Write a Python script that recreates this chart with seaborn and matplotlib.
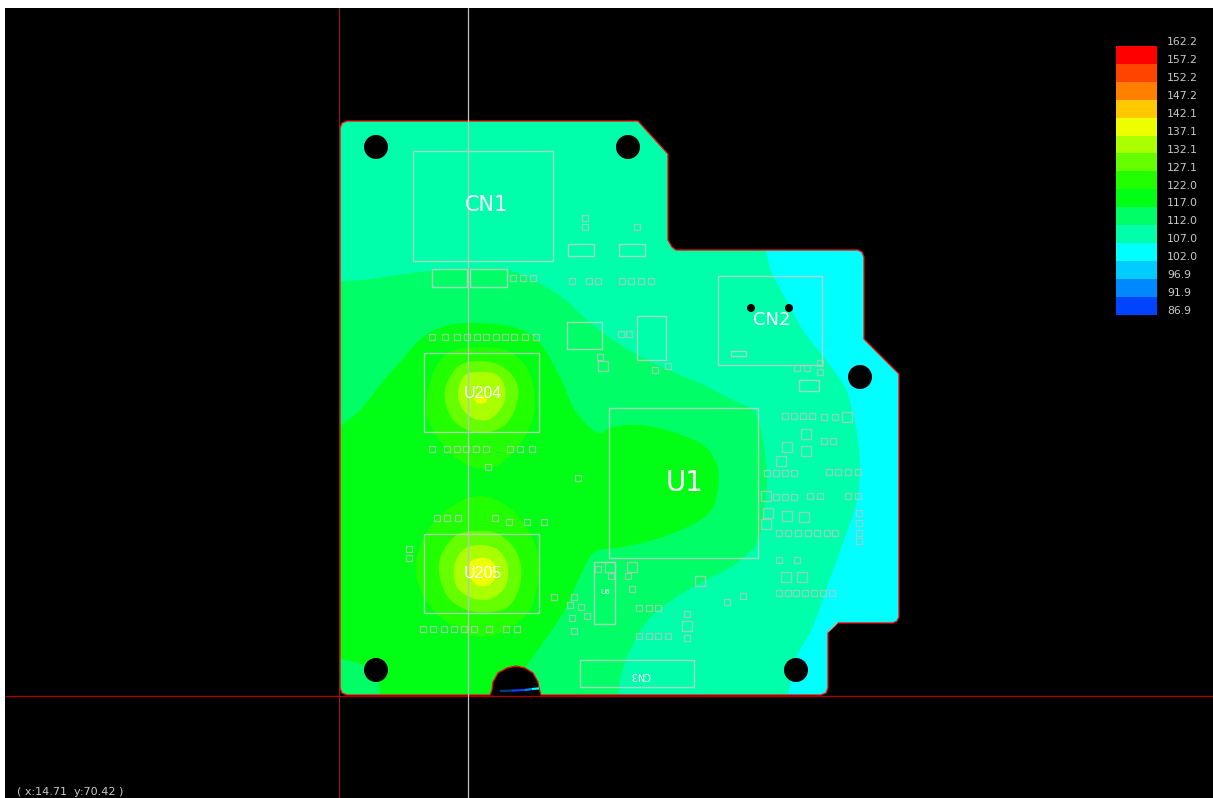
import numpy as np
import pandas as pd
import matplotlib
matplotlib.use("Agg")
import matplotlib.pyplot as plt
import seaborn as sns
from matplotlib.colors import ListedColormap, BoundaryNorm
from matplotlib.patches import Polygon, Circle, Rectangle

# ---------------- legend data ----------------
scale_labels = ["162.2","157.2","152.2","147.2","142.1","137.1","132.1","127.1",
                "122.0","117.0","112.0","107.0","102.0","96.9","91.9","86.9"]
band_colors = ["#ff0000","#ff4400","#ff8000","#ffc800","#eeff00","#aaff00","#66ff00","#22ff00",
               "#00ff14","#00ff66","#00ffaa","#00ffff","#00ccff","#0088ff","#0044ff"]

# ---------------- board geometry ----------------
board_outline = [(340,128),(342,123),(347,121),(638,121),(668,154),(668,240),(672,247),(676,250),
                 (858,250),(862,252),(864,257),(864,339),(899,374),(899,617),(897,621),(893,623),
                 (838,623),(828,632),(828,688),(826,693),(821,695),(541,695),(539,688),(538,682),
                 (533,673),(525,668),(516,666),(507,668),(498,673),(493,682),(492,690),(490,695),
                 (347,695),(342,693),(340,688)]
holes = [(376,147,12),(628,147,12),(860,377,12),(376,670,12),(796,670,12),(751,308,4),(789,308,4)]

band_102_edge = [(765,246),(767,255),(772,273),(788,303),(803,330),(822,355),(845,387),(852,410),
                 (857,433),(860,463),(857,500),(843,543),(827,587),(813,627),(797,657),(787,700)]
band_102_close = [(910,700),(910,246)]

band_107_edge = [(335,281),(363,280),(397,275),(430,271),(470,269),(507,270),(537,282),(563,298),
                 (587,320),(613,340),(647,360),(680,375),(700,383),(733,400),(750,408),(757,416),
                 (763,440),(767,480),(763,517),(757,543),(737,563),(720,573),(683,593),(650,618),
                 (630,650),(620,680),(618,700)]
band_107_close = [(335,700)]

band_112_edge = [(335,430),(360,410),(380,385),(400,362),(423,337),(450,325),(483,323),(517,328),
                 (540,343),(560,377),(573,407),(587,425),(600,433),(613,427),(640,425),(673,432),
                 (703,445),(715,460),(719,480),(713,507),(697,522),(663,537),(623,547),(600,550),
                 (590,557),(577,583),(563,613),(538,650),(525,668)]
band_112_foot = [(380,700),(378,680),(363,665),(335,658)]
band_112_close = [(522,700)]

hot_u204 = {
    "#22ff00": [(483,347),(450,352),(433,373),(426,407),(433,430),(450,453),(473,467),(493,467),
                (513,453),(530,427),(535,400),(528,370),(510,352)],
    "#66ff00": [(482,361),(460,365),(447,383),(445,400),(453,420),(470,431),(490,432),(507,423),
                (517,403),(517,383),(503,367)],
    "#aaff00": [(482,372),(465,375),(458,392),(462,408),(475,419),(490,419),(503,405),(505,388),
                (497,375)],
    "#eeff00": [(481,395),(475,398),(476,402),(481,404),(486,402),(487,398)],
}
hot_u205 = {
    "#22ff00": [(480,496),(457,503),(430,527),(417,557),(418,583),(433,610),(457,628),(480,637),
                (507,630),(530,610),(538,580),(537,550),(520,518),(500,502)],
    "#66ff00": [(480,531),(457,535),(442,553),(439,573),(448,597),(467,610),(490,612),(510,605),
                (521,580),(517,553),(500,535)],
    "#aaff00": [(480,545),(463,550),(454,567),(457,587),(472,598),(490,599),(505,587),(508,567),
                (498,550)],
    "#eeff00": [(480,558),(470,562),(468,573),(477,585),(488,585),(495,578),(495,565),(488,559)],
}

# component outlines: x0, y0, x1, y1
components = [(413,151,553,261),(432,269,467,287),(470,269,507,287),(568,244,594,256),(619,244,645,256),
              (567,322,602,349),(637,316,666,360),(424,353,539,432),(424,534,539,613),(609,408,758,558),
              (718,276,822,365),(731,351,746,356),(799,380,819,391),(594,562,615,624),(580,660,694,687)]

small_pads_x = [432,445,457,467,477,486,496,505,514,525,536, 432,447,457,466,476,486,510,520,532, 488,578,
                437,447,458,495,509,527,544,409,409, 423,433,444,454,464,474,489,506,517,
                554,574,570,581,572,587,574, 598,611,628,632,639,649,658,687,687,639,649,658,668,727,743,
                585,585,637,513,523,533,572,589,598,622,631,641,651,621,629,600,655,668,
                797,807,820,820,785,794,803,812,824,835,824,833,
                767,776,785,794,829,838,848,858,776,785,794,810,820,848,858,859,859,859,859,
                779,788,798,808,817,827,835,779,797,779,788,796,805,814,823,832]
small_pads_y = [337,337,337,337,337,337,337,337,337,337,337, 449,449,449,449,449,449,449,449,449, 467,478,
                518,518,518,518,522,522,522,549,558, 629,629,629,629,629,629,629,629,629,
                597,597,605,607,618,616,631, 569,576,576,589,608,608,608,614,638,636,636,636,636,602,596,
                218,227,227,278,278,278,281,281,281,281,281,281,281,334,334,357,370,366,
                368,368,363,372,416,416,416,416,417,417,441,441,
                473,473,473,473,472,472,472,472,497,497,497,496,496,496,496,513,523,533,541,
                533,533,533,533,533,533,533,560,560,593,593,593,593,593,593,593]
big_pads_x = [610,632,700,687,603,847,806,787,806,781,766,768,766,787,804,786,802]
big_pads_y = [567,567,581,626,366,417,434,447,451,461,496,513,524,516,517,577,577]

board_labels = ["CN1","U1","CN2"]
board_label_x = [486,685,772]
board_label_y = [205,483,320]
board_label_size = [15,20,13]
narrow_labels = ["U204","U205"]
narrow_label_x = [483,483]
narrow_label_y = [393,573]

band_sliver_x = [500,512,525,532,539]
band_sliver_y = [691,690.6,690,689,688.4]
band_sliver_c = ["#004080","#0044ff","#0088ff","#00ffff"]


def smooth(points, closed=False, n=10):
    """Catmull-Rom curve through the read points."""
    p = np.array(points, float)
    if closed:
        q = np.vstack([p[-1], p, p[0], p[1]])
    else:
        q = np.vstack([p[0], p, p[-1]])
    out = []
    for i in range(1, len(q) - 2):
        p0, p1, p2, p3 = q[i-1], q[i], q[i+1], q[i+2]
        for t in np.linspace(0, 1, n, endpoint=False):
            out.append(0.5*((2*p1)+(-p0+p2)*t+(2*p0-5*p1+4*p2-p3)*t*t+(-p0+3*p1-3*p2+p3)*t**3))
    out.append(q[-2])
    return np.array(out)


sns.set_theme(style="white", rc={"axes.grid": False})
plt.rcParams["font.family"] = ["DejaVu Sans"]

W, H = 1213, 798
fig = plt.figure(figsize=(W/100, H/100), dpi=100, facecolor="white")
ax = fig.add_axes([5/W, 0, (W-5)/W, (H-8)/H])
ax.set_facecolor("black")
ax.set_xlim(5, W)
ax.set_ylim(H, 8)
ax.set_xticks([]); ax.set_yticks([])
sns.despine(ax=ax, left=True, bottom=True, right=True, top=True)

# board fill and temperature bands, clipped by the outline
board = Polygon(board_outline, closed=True, fc="#00ffaa", ec="none", zorder=1)
ax.add_patch(board)

def band(xy, color, z):
    patch = Polygon(xy, closed=True, fc=color, ec="none", zorder=z)
    ax.add_patch(patch)
    patch.set_clip_path(board)

band(np.vstack([smooth(band_102_edge), band_102_close]), "#00ffff", 2)
band(np.vstack([smooth(band_107_edge), band_107_close]), "#00ff66", 2)
band(np.vstack([smooth(band_112_edge), band_112_close, smooth(band_112_foot)]), "#00ff14", 3)
for z, spot in enumerate([hot_u204, hot_u205]):
    for k, (col, pts) in enumerate(spot.items()):
        band(smooth(pts, closed=True), col, 4 + k)

# outline, holes
ax.add_patch(Polygon(board_outline, closed=True, fc="none", ec="#ff0000", lw=0.9, zorder=9))
for hx, hy, r in holes:
    ax.add_patch(Circle((hx, hy), r, fc="black", ec="none", zorder=10))

# sliver of cold colours inside the notch, and scratch at the corner
for i, c in enumerate(band_sliver_c):
    ax.plot(band_sliver_x[i:i+2], band_sliver_y[i:i+2], color=c, lw=1.6, zorder=11, solid_capstyle="butt")
ax.plot([828, 837], [632, 623], color="#9fc9c0", lw=0.8, zorder=9)

# components
for x0, y0, x1, y1 in components:
    ax.add_patch(Rectangle((x0, y0), x1-x0, y1-y0, fc="none", ec="#cccccc", lw=1.0, alpha=0.8, zorder=12))

small = pd.DataFrame({"x": small_pads_x, "y": small_pads_y})
big = pd.DataFrame({"x": big_pads_x, "y": big_pads_y})
sns.scatterplot(data=small, x="x", y="y", ax=ax, marker="s", s=20, facecolors="none",
                edgecolor="#c4c4c4", linewidth=0.9, alpha=0.7, zorder=12, legend=False)
sns.scatterplot(data=big, x="x", y="y", ax=ax, marker="s", s=48, facecolors="none",
                edgecolor="#c4c4c4", linewidth=1.0, alpha=0.7, zorder=12, legend=False)
ax.set_xlabel(""); ax.set_ylabel("")
ax.set_xlim(5, W); ax.set_ylim(H, 8)

# crosshair lines
ax.axvline(339, color="#a01818", lw=0.8, zorder=13)
ax.axhline(696, color="#b00000", lw=0.9, zorder=13)
ax.axvline(468, color="#c0c0c0", lw=0.9, zorder=13)

# labels
for t, x, y, s in zip(board_labels, board_label_x, board_label_y, board_label_size):
    ax.text(x, y, t, color="white", fontsize=s, ha="center", va="center", zorder=14)
for t, x, y in zip(narrow_labels, narrow_label_x, narrow_label_y):
    ax.text(x, y, t, color="white", fontsize=11.5, ha="center", va="center", zorder=14,
            family="Liberation Sans")
ax.text(605, 592, "U6", color="white", fontsize=5.5, ha="center", va="center", zorder=14,
        family="Liberation Sans")
ax.text(640, 675, "CN3", color="white", fontsize=7, ha="center", va="center", rotation=180, zorder=14)
ax.text(17, 797, "( x:14.71  y:70.42 )", color="#c8c8c8", fontsize=8, ha="left", va="bottom", zorder=14)

# legend colour bar
edges = [float(v) for v in scale_labels]
bar_values = np.array([(edges[i] + edges[i+1]) / 2 for i in range(len(band_colors))]).reshape(-1, 1)
ax_leg = fig.add_axes([1116/W, 1-314.5/H, 41/W, 268.5/H])
sns.heatmap(bar_values, ax=ax_leg, cmap=ListedColormap(band_colors[::-1]),
            norm=BoundaryNorm(edges[::-1], len(band_colors)), cbar=False,
            xticklabels=False, yticklabels=False, linewidths=0)
step = 268.5 / 15
for i, t in enumerate(scale_labels):
    ax.text(1167, 46 + i*step - 3.6, t, color="#c8c8c8", fontsize=7.8, ha="left", va="center", zorder=14)

fig.savefig("out.png", dpi=100, facecolor="white")
